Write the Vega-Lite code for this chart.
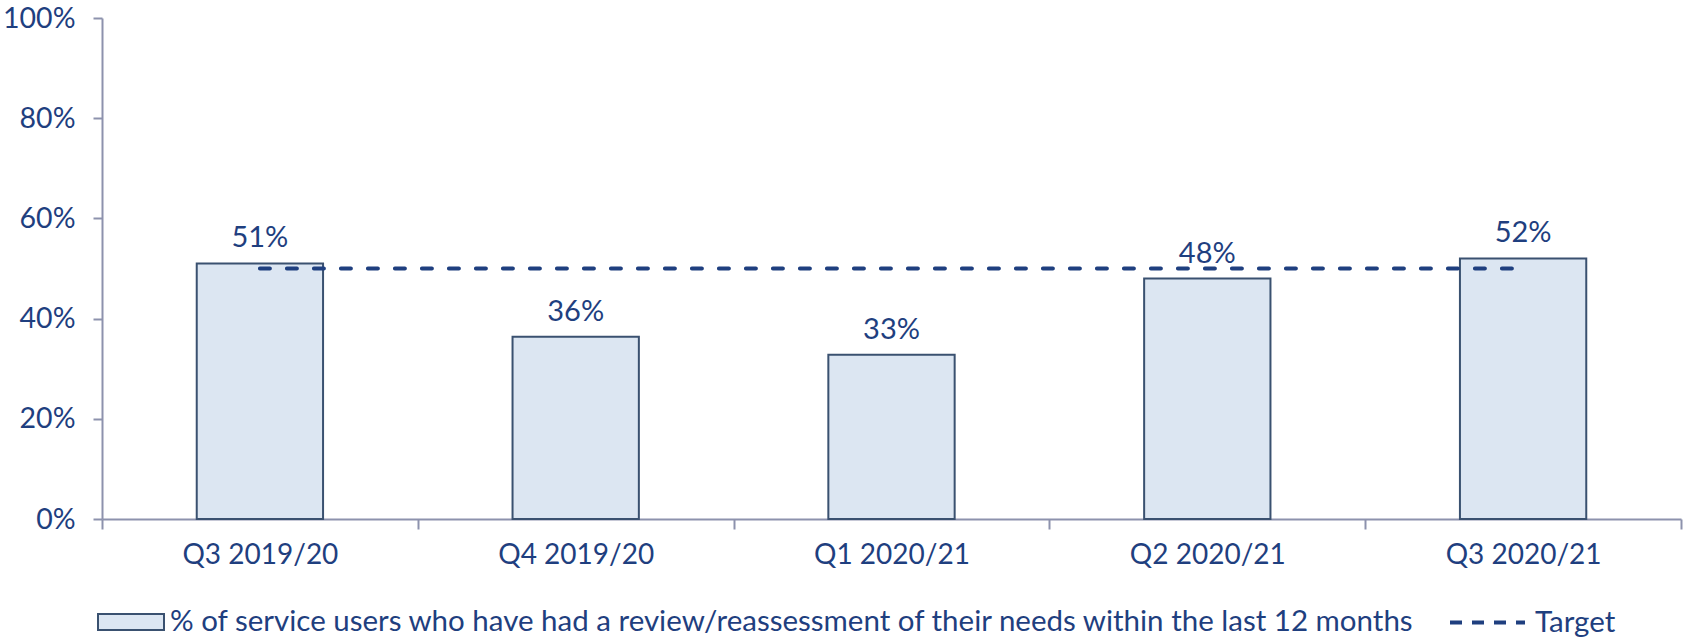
{
  "$schema": "https://vega.github.io/schema/vega-lite/v6.json",
  "width": 1579,
  "height": 501,
  "autosize": {"type": "none"},
  "padding": {"left": 102, "top": 18, "right": 3, "bottom": 119},
  "background": "white",
  "config": {
    "font": "Lato",
    "view": {"stroke": null},
    "axis": {
      "domainColor": "#8D92AD",
      "domainWidth": 2,
      "tickColor": "#8D92AD",
      "tickWidth": 2,
      "labelFont": "Lato",
      "labelFontSize": 28,
      "labelColor": "#1F3F7F",
      "grid": false,
      "title": null
    },
    "legend": {"padding": 0, "labelFont": "Lato", "labelFontSize": 29.5, "labelColor": "#1F3F7F", "labelLimit": 2000}
  },
  "data": {
    "values": [
      {"quarter": "Q3 2019/20", "value": 0.51, "target": 0.5},
      {"quarter": "Q4 2019/20", "value": 0.364, "target": 0.5},
      {"quarter": "Q1 2020/21", "value": 0.328, "target": 0.5},
      {"quarter": "Q2 2020/21", "value": 0.48, "target": 0.5},
      {"quarter": "Q3 2020/21", "value": 0.52, "target": 0.5}
    ]
  },
  "encoding": {
    "x": {
      "field": "quarter",
      "type": "nominal",
      "sort": null,
      "scale": {"paddingInner": 0, "paddingOuter": 0},
      "axis": {"labelAngle": 0, "tickBand": "extent", "tickSize": 10, "labelPadding": 12}
    }
  },
  "layer": [
    {
      "mark": {"type": "bar", "stroke": "#3A5170", "strokeWidth": 2, "width": {"band": 0.4}},
      "encoding": {
        "y": {
          "field": "value",
          "type": "quantitative",
          "scale": {"domain": [0, 1]},
          "axis": {"values": [0, 0.2, 0.4, 0.6, 0.8, 1], "format": ".0%", "tickSize": 9, "labelPadding": 18, "labelFontSize": 28.5}
        },
        "fill": {
          "datum": "% of service users who have had a review/reassessment of their needs within the last 12 months",
          "scale": {"range": ["#DCE6F2"]},
          "legend": {
            "title": null,
            "orient": "none",
            "legendX": -5,
            "legendY": 570,
            "symbolType": "M-1,-0.24H1V0.24H-1Z",
            "symbolSize": 4356,
            "symbolStrokeColor": "#3A5170",
            "symbolStrokeWidth": 2,
            "symbolFillColor": "#DCE6F2",
            "labelOffset": 5
          }
        }
      }
    },
    {
      "mark": {"type": "text", "dy": -16, "baseline": "alphabetic", "fontSize": 29, "color": "#1F3F7F", "font": "Lato"},
      "encoding": {
        "y": {"field": "value", "type": "quantitative"},
        "text": {"field": "value", "type": "quantitative", "format": ".0%"}
      }
    },
    {
      "mark": {"type": "line", "strokeDash": [10, 17], "strokeWidth": 4, "strokeCap": "round"},
      "encoding": {
        "y": {"field": "target", "type": "quantitative"},
        "stroke": {
          "datum": "Target",
          "scale": {"range": ["#1F3F7F"]},
          "legend": {
            "title": null,
            "orient": "none",
            "legendX": 1346,
            "legendY": 565,
            "symbolType": "M-1,0H1",
            "symbolSize": 5625,
            "symbolStrokeWidth": 4,
            "symbolDash": [12, 10],
            "labelOffset": 8
          }
        }
      }
    }
  ]
}
